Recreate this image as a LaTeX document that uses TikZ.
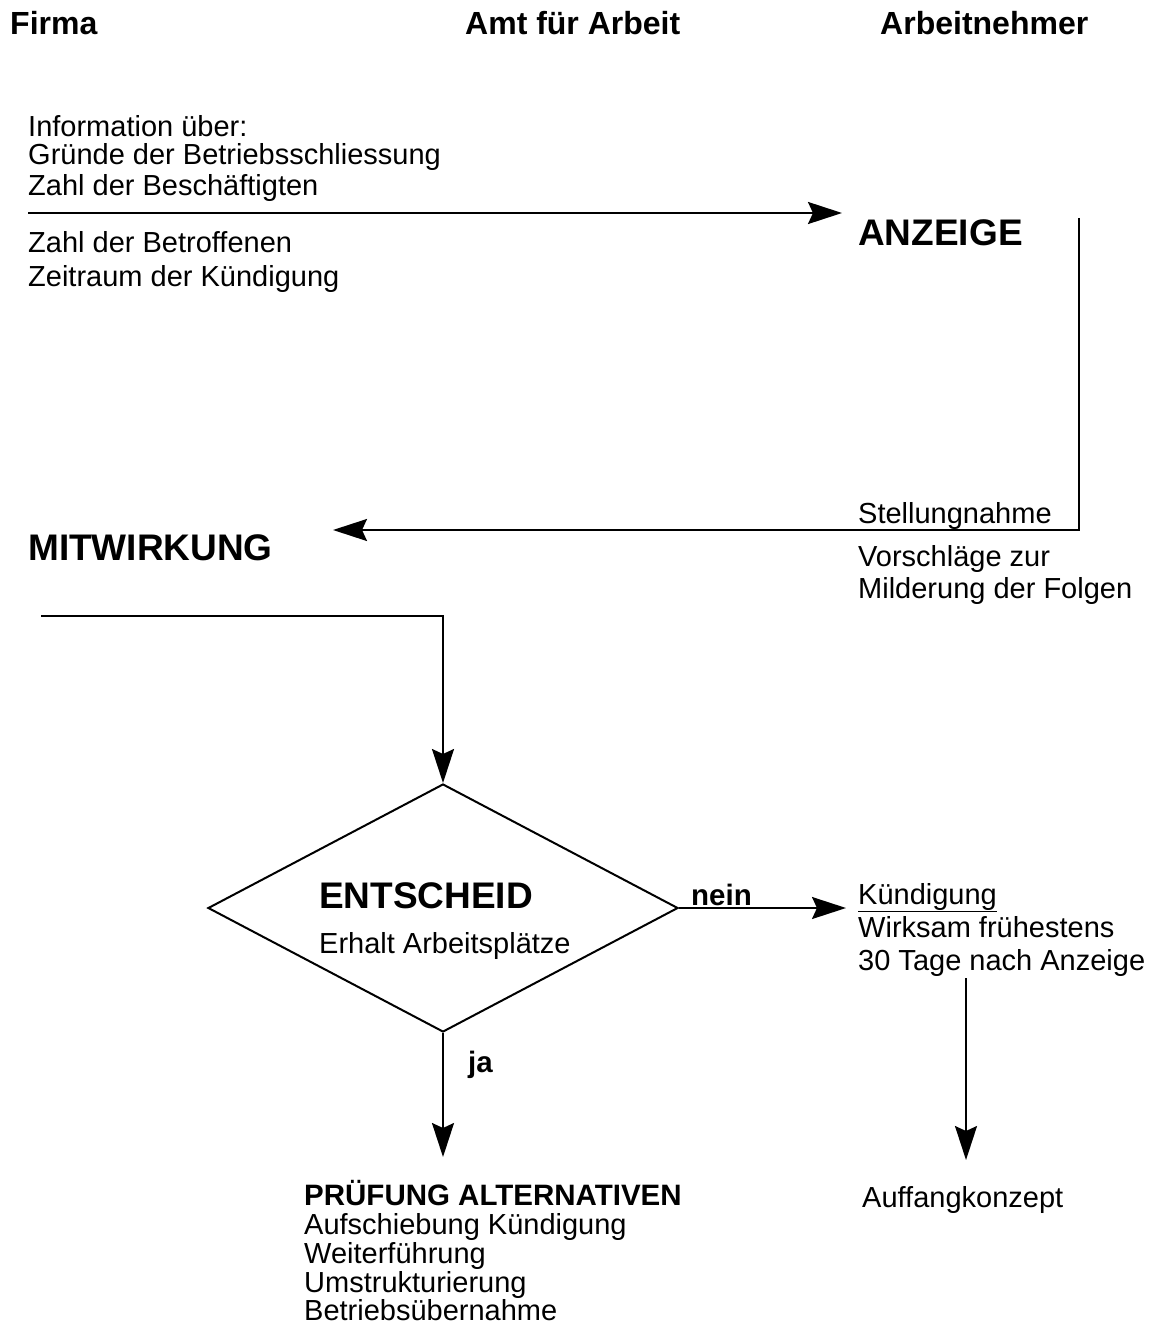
\documentclass[tikz,border=0pt]{standalone}
\usepackage{fontspec}
\setmainfont{Liberation Sans}
\usetikzlibrary{arrows.meta,shapes.geometric}
\begin{document}
\begin{tikzpicture}[x=1pt,y=-1pt,
  txt/.style={anchor=base west,inner sep=0pt,font=\fontsize{29}{34}\selectfont},
  hdr/.style={anchor=base west,inner sep=0pt,font=\fontsize{32}{38}\selectfont\bfseries},
  big/.style={anchor=base west,inner sep=0pt,font=\fontsize{37}{44}\selectfont\bfseries},
  lbl/.style={anchor=base west,inner sep=0pt,font=\fontsize{29.5}{34}\selectfont\bfseries},
  arr/.style={line width=2pt,-{Stealth[length=34pt,width=22pt,inset=5pt]}}]
\useasboundingbox (0,0) rectangle (1155,1340);
% headers
\node[hdr] (firma) at (10,35) {Firma};
\node[hdr] (amt) at (465,35) {Amt für Arbeit};
\node[hdr] (an) at (880,35) {Arbeitnehmer};
% information block
\node[txt] (i1) at (28,137) {Information über:};
\node[txt] (i2) at (28,165) {Gründe der Betriebsschliessung};
\node[txt] (i3) at (28,196) {Zahl der Beschäftigten};
\node[txt] (i4) at (28,252) {Zahl der Betroffenen};
\node[txt] (i5) at (28,286) {Zeitraum der Kündigung};
\node[big] (anz) at (858,245) {ANZEIGE};
\coordinate (a1s) at (28,213);
\coordinate (a1e) at (842,213);
\draw[arr,line width=2.5pt] (a1s) -- (a1e);
% right return
\coordinate (r1) at (1079,218);
\coordinate (r2) at (1079,530);
\coordinate (a2e) at (333,530);
\draw[arr] (r1) -- (r2) -- (a2e);
\node[txt] (st) at (858,523) {Stellungnahme};
\node[txt] (v1) at (858,566) {Vorschläge zur};
\node[txt] (v2) at (858,598) {Milderung der Folgen};
\node[big] (mit) at (28,560) {MITWIRKUNG};
% decision
\node[draw,diamond,line width=2pt,minimum width=470pt,minimum height=248pt,inner sep=0pt] (dia) at (443,908) {};
\coordinate (m1) at (41,616);
\coordinate (m2) at (443,616);
\draw[arr] (m1) -- (m2) -- (dia.north);
\node[big] (ent) at (319,908) {ENTSCHEID};
\node[txt] (erh) at (319,953) {Erhalt Arbeitsplätze};
\node[lbl] (nein) at (691,905) {nein};
\coordinate (ne) at (846,908);
\draw[arr] (dia.east) -- (ne);
\node[txt] (k1) at (858,904) {\underline{Kündigung}};
\node[txt] (k2) at (858,937) {Wirksam frühestens};
\node[txt] (k3) at (858,970) {30 Tage nach Anzeige};
\coordinate (k4) at (966,978);
\coordinate (k5) at (966,1160);
\draw[arr] (k4) -- (k5);
\node[lbl] (ja) at (468,1072) {ja};
\coordinate (jae) at (443,1157);
\draw[arr] (dia.south) -- (jae);
% results
\node[lbl] (pr) at (304,1205) {PRÜFUNG ALTERNATIVEN};
\node[txt] (p1) at (304,1234) {Aufschiebung Kündigung};
\node[txt] (p2) at (304,1263) {Weiterführung};
\node[txt] (p3) at (304,1292) {Umstrukturierung};
\node[txt] (p4) at (304,1320) {Betriebsübernahme};
\node[txt] (auf) at (862,1207) {Auffangkonzept};
\end{tikzpicture}
\end{document}
